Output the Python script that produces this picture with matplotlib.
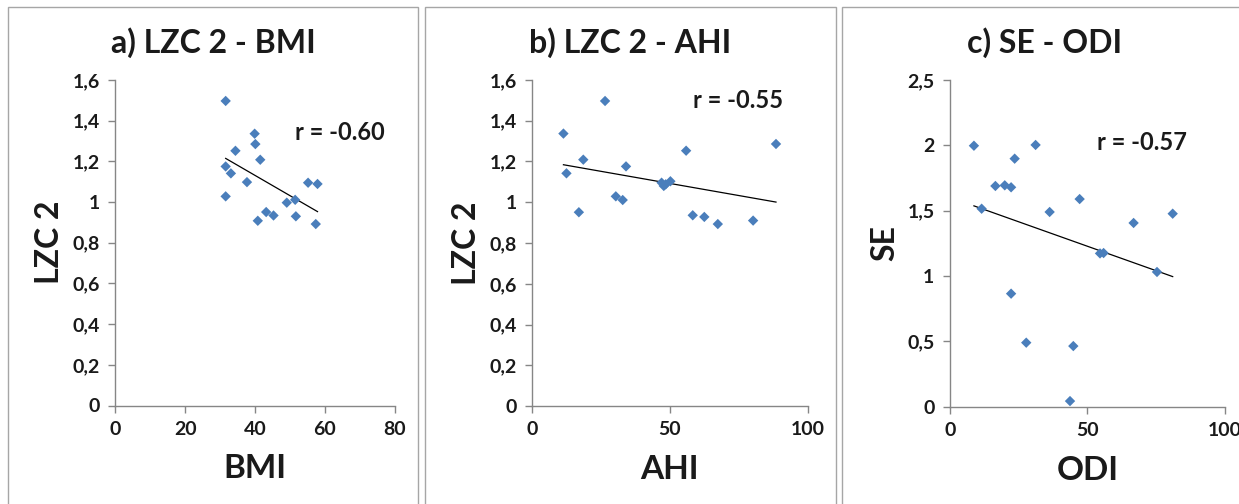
import numpy as np
import matplotlib.pyplot as plt
from matplotlib.patches import Rectangle
from matplotlib.ticker import FuncFormatter, MultipleLocator

plt.rcParams['font.family'] = ['Lato', 'DejaVu Sans']
plt.rcParams['font.weight'] = 'bold'

# a) LZC 2 vs BMI
bmi = [31.6, 39.9, 40.1, 34.4, 41.5, 31.6, 33.1, 37.7, 55.2, 57.9,
       31.6, 51.5, 49.1, 43.2, 45.3, 51.7, 40.8, 57.4]
lzc_a = [1.497, 1.336, 1.285, 1.252, 1.208, 1.175, 1.141, 1.098, 1.095, 1.089,
         1.028, 1.011, 0.997, 0.951, 0.934, 0.930, 0.908, 0.892]

# b) LZC 2 vs AHI
ahi = [26.5, 11.4, 88.5, 55.9, 18.6, 34.1, 12.5, 47.0, 47.8, 48.5,
       50.2, 30.4, 32.9, 17.0, 58.3, 62.5, 67.4, 80.2]
lzc_b = [1.497, 1.337, 1.286, 1.253, 1.209, 1.176, 1.142, 1.096, 1.080, 1.088,
         1.103, 1.029, 1.011, 0.951, 0.936, 0.928, 0.893, 0.910]

# c) SE vs ODI
odi = [8.8, 31.2, 23.6, 16.6, 20.0, 22.3, 47.2, 11.6, 36.3, 81.0,
       66.8, 54.6, 55.9, 75.3, 22.3, 27.8, 44.9, 43.7]
se = [1.997, 2.003, 1.898, 1.689, 1.694, 1.679, 1.589, 1.515, 1.490, 1.477,
      1.406, 1.173, 1.176, 1.031, 0.865, 0.490, 0.464, 0.043]

titles = ['a) LZC 2 - BMI', 'b) LZC 2 - AHI', 'c) SE - ODI']
xlabels = ['BMI', 'AHI', 'ODI']
ylabels = ['LZC 2', 'LZC 2', 'SE']
r_labels = ['r = -0.60', 'r = -0.55', 'r = -0.57']

W, H = 1239, 504
fig = plt.figure(figsize=(W / 100, H / 100), dpi=100)

grey = '#868686'
blue = '#4a7ebb'
ink = '#1a1a1a'


def decimal_comma(v, pos):
    return ('%g' % round(v, 2)).replace('.', ',')


def px_axes(left, right, top, bottom):
    return fig.add_axes([left / W, 1 - bottom / H, (right - left) / W, (bottom - top) / H])


# panel frames, titles centred in each frame
frames = [(8, 418), (425, 836), (842, 1250)]
title_x = [213, 630, 1045]
for (x0, x1), tx, title in zip(frames, title_x, titles):
    fig.patches.append(Rectangle((x0 / W, -0.05), (x1 - x0) / W, 1.05 - 7 / H,
                                 transform=fig.transFigure, fill=False,
                                 edgecolor='#a6a6a6', lw=1.0))
    fig.text(tx / W, 1 - 43 / H, title, fontsize=23, fontweight='bold',
             color=ink, ha='center', va='center')

panels = [
    (bmi, lzc_a, (115.3, 394.7, 80, 405.5), 80, 20, 1.6, 0.2, (51.5, 1.34)),
    (ahi, lzc_b, (532, 807.7, 80, 406), 100, 50, 1.6, 0.2, (58.4, 1.50)),
    (odi, se, (949.7, 1225, 80, 406.7), 100, 50, 2.5, 0.5, (53.5, 2.02)),
]

for i, (xs, ys, box, xmax, xstep, ymax, ystep, rpos) in enumerate(panels):
    ax = px_axes(*box)
    ax.scatter(xs, ys, marker='D', s=28, color=blue, edgecolors='none', zorder=3)

    # linear trend over the data range
    k, b = np.polyfit(xs, ys, 1)
    xx = np.array([min(xs), max(xs)])
    ax.plot(xx, k * xx + b, color='black', lw=0.9, zorder=2)

    ax.set_xlim(0, xmax)
    ax.set_ylim(0, ymax)
    ax.xaxis.set_major_locator(MultipleLocator(xstep))
    ax.yaxis.set_major_locator(MultipleLocator(ystep))
    ax.yaxis.set_major_formatter(FuncFormatter(decimal_comma))
    ax.xaxis.set_major_formatter(FuncFormatter(decimal_comma))

    for side in ['top', 'right']:
        ax.spines[side].set_visible(False)
    for side in ['left', 'bottom']:
        ax.spines[side].set_color(grey)
        ax.spines[side].set_linewidth(1.0)
    ax.tick_params(direction='out', length=5, width=1, color=grey,
                   labelsize=14, labelcolor=ink, pad=6)
    for lab in ax.get_xticklabels() + ax.get_yticklabels():
        lab.set_fontweight('bold')

    ax.set_xlabel(xlabels[i], fontsize=24, fontweight='bold', color=ink, labelpad=12)
    ax.set_ylabel(ylabels[i], fontsize=23, fontweight='bold', color=ink, labelpad=6)
    ax.text(rpos[0], rpos[1], r_labels[i], fontsize=17, fontweight='bold',
            color=ink, va='center', ha='left')
    ax.set_facecolor('none')

fig.savefig('out.png', dpi=100, facecolor='white')
